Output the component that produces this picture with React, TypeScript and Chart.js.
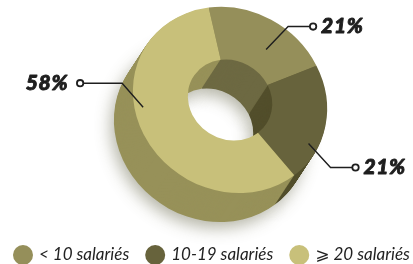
import React, { useEffect, useRef } from "react";
import { Chart, registerables } from "chart.js";
Chart.register(...registerables);

const categories = ["< 10 salariés", "10-19 salariés", "⩾ 20 salariés"];
const values = [21, 21, 58];
const valueLabels = ["21%", "21%", "58%"];
const topColors = ["#958f5a", "#67633c", "#c8c07a"];
const sideColors = ["#6d6942", "#524e2b", "#979159"];

// style / layout constants
const EXTRUDE = [-19, 29];
const DEPTH_STEPS = 29;
const SQUASH = 0.9;
const FONT = "Lato, 'Open Sans', 'DejaVu Sans', sans-serif";
// label placement: fraction along arc, fraction across ring, elbow offset, horizontal run
const labelLayout = [
  { f: 0.6, g: 0.45, ex: 22, ey: -23, run: 25 },
  { f: 0.7, g: 0.82, ex: 22, ey: 24, run: 25 },
  { f: 0.58, g: 0.84, ex: -21, ey: -24, run: -42 },
];

function tiltMatrix() {
  const len = Math.hypot(EXTRUDE[0], EXTRUDE[1]);
  const ux = EXTRUDE[0] / len, uy = EXTRUDE[1] / len;
  const k = 1 - SQUASH;
  return { a: 1 - k * ux * ux, b: -k * ux * uy, c: -k * ux * uy, d: 1 - k * uy * uy };
}

function applyTilt(ctx: CanvasRenderingContext2D, cx: number, cy: number) {
  const m = tiltMatrix();
  ctx.translate(cx, cy);
  ctx.transform(m.a, m.b, m.c, m.d, 0, 0);
  ctx.translate(-cx, -cy);
}

function tiltPoint(x: number, y: number, cx: number, cy: number) {
  const m = tiltMatrix();
  const dx = x - cx, dy = y - cy;
  return { x: cx + m.a * dx + m.c * dy, y: cy + m.b * dx + m.d * dy };
}

const depthPlugin = {
  id: "depth3d",
  beforeDatasetsDraw(chart: any) {
    const ctx: CanvasRenderingContext2D = chart.ctx;
    const arcs = chart.getDatasetMeta(0).data;
    if (!arcs.length) return;
    const cx = arcs[0].x, cy = arcs[0].y;
    for (let k = DEPTH_STEPS; k >= 1; k--) {
      ctx.save();
      ctx.translate((EXTRUDE[0] * k) / DEPTH_STEPS, (EXTRUDE[1] * k) / DEPTH_STEPS);
      applyTilt(ctx, cx, cy);
      if (k === DEPTH_STEPS) {
        ctx.shadowColor = "rgba(90,90,60,0.45)";
        ctx.shadowBlur = 16;
        ctx.shadowOffsetX = -3;
        ctx.shadowOffsetY = 6;
      }
      arcs.forEach((arc: any, i: number) => {
        const p = arc.getProps(["x", "y", "startAngle", "endAngle", "innerRadius", "outerRadius"], true);
        ctx.beginPath();
        ctx.arc(p.x, p.y, p.outerRadius, p.startAngle, p.endAngle);
        ctx.arc(p.x, p.y, p.innerRadius, p.endAngle, p.startAngle, true);
        ctx.closePath();
        ctx.fillStyle = sideColors[i];
        ctx.fill();
      });
      ctx.restore();
    }
    ctx.save();
    applyTilt(ctx, cx, cy);
  },
  afterDatasetsDraw(chart: any) {
    const ctx: CanvasRenderingContext2D = chart.ctx;
    const arcs = chart.getDatasetMeta(0).data;
    if (!arcs.length) return;
    ctx.restore();
    const cx = arcs[0].x, cy = arcs[0].y;
    arcs.forEach((arc: any, i: number) => {
      const p = arc.getProps(["startAngle", "endAngle", "innerRadius", "outerRadius"], true);
      const L = labelLayout[i];
      const ang = p.startAngle + L.f * (p.endAngle - p.startAngle);
      const r = p.innerRadius + L.g * (p.outerRadius - p.innerRadius);
      const a = tiltPoint(cx + r * Math.cos(ang), cy + r * Math.sin(ang), cx, cy);
      const e = { x: a.x + L.ex, y: a.y + L.ey };
      const c = { x: e.x + L.run, y: e.y };
      ctx.save();
      ctx.strokeStyle = "#1e1e1e";
      ctx.lineWidth = 1.4;
      ctx.beginPath();
      ctx.moveTo(a.x, a.y);
      ctx.lineTo(e.x, e.y);
      ctx.lineTo(c.x, c.y);
      ctx.stroke();
      ctx.beginPath();
      ctx.arc(c.x, c.y, 3.2, 0, Math.PI * 2);
      ctx.fillStyle = "#ffffff";
      ctx.fill();
      ctx.lineWidth = 1.8;
      ctx.stroke();
      ctx.fillStyle = "#1e1e1e";
      ctx.font = `italic 900 21px ${FONT}`;
      (ctx as any).letterSpacing = "0.6px";
      ctx.textBaseline = "middle";
      ctx.lineWidth = 0.9;
      ctx.lineJoin = "round";
      let tx: number;
      if (L.run < 0) {
        ctx.textAlign = "right";
        tx = c.x - 12;
      } else {
        ctx.textAlign = "left";
        tx = c.x + 8;
      }
      ctx.fillText(valueLabels[i], tx, c.y);
      ctx.strokeText(valueLabels[i], tx, c.y);
      ctx.restore();
    });
  },
  afterDraw(chart: any) {
    const ctx: CanvasRenderingContext2D = chart.ctx;
    ctx.save();
    ctx.font = `italic 17px ${FONT}`;
    ctx.textBaseline = "middle";
    ctx.textAlign = "left";
    let x = 13;
    const y = 255;
    categories.forEach((cat, i) => {
      ctx.beginPath();
      ctx.arc(x + 10, y, 10, 0, Math.PI * 2);
      ctx.fillStyle = topColors[i];
      ctx.fill();
      ctx.fillStyle = "#222222";
      ctx.fillText(cat, x + 26, y);
      x += 26 + ctx.measureText(cat).width + 16;
    });
    ctx.restore();
  },
};

export default function App() {
  const ref = useRef<HTMLCanvasElement | null>(null);
  useEffect(() => {
    if (!ref.current) return;
    const chart = new Chart(ref.current, {
      type: "doughnut",
      data: {
        labels: categories,
        datasets: [
          {
            data: values,
            backgroundColor: topColors,
            borderWidth: 0,
            clip: false as any,
          },
        ],
      },
      options: {
        responsive: false,
        animation: false,
        devicePixelRatio: 1,
        rotation: -10,
        cutout: "43.5%",
        layout: { padding: { left: 130, right: 83, top: 0, bottom: 64 } },
        plugins: { legend: { display: false }, tooltip: { enabled: false } },
        events: [],
      },
      plugins: [depthPlugin],
    });
    return () => chart.destroy();
  }, []);
  return (
    <div style={{ position: "fixed", left: 0, top: 0, width: 413, height: 264, background: "#fff" }}>
      <canvas ref={ref} width={413} height={264} style={{ display: "block" }} />
    </div>
  );
}
